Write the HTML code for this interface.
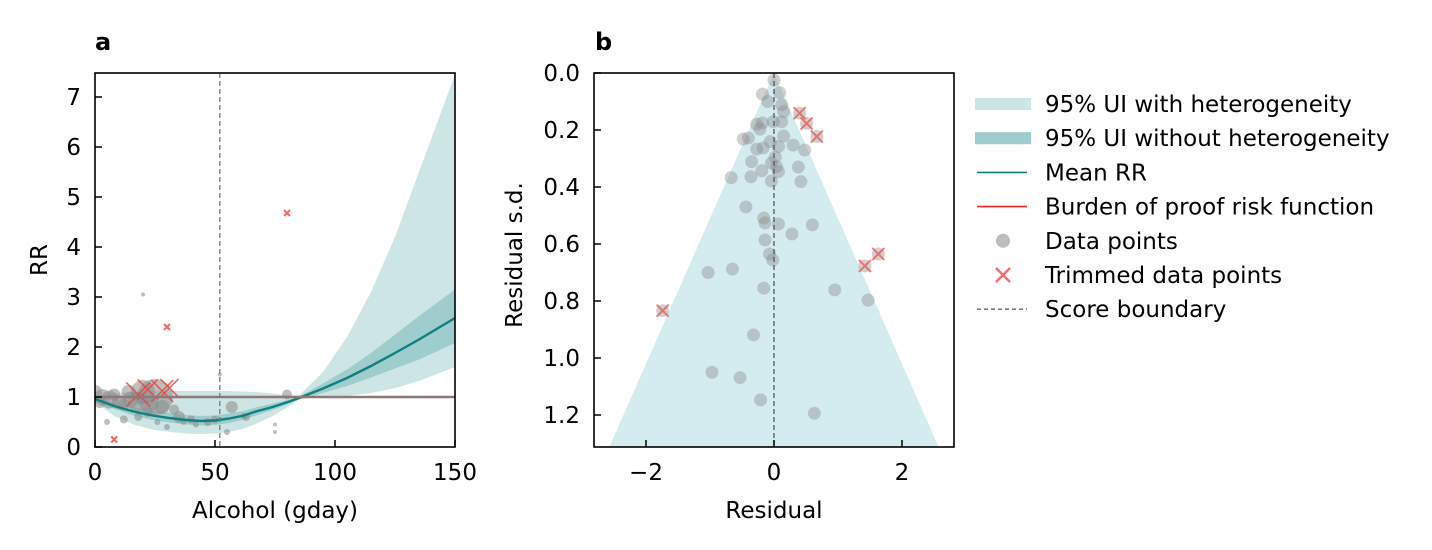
<!DOCTYPE html>
<html><head><meta charset="utf-8"><style>
body{margin:0;background:#fff}
svg{font-family:"DejaVu Sans","Liberation Sans",sans-serif;display:block}
</style></head><body>
<svg id="c" width="1432" height="550" viewBox="0 0 1432 550"></svg>
<script>
// ---- Panel a data ----
const curveX=[0,8,16,24,31,38,44,50,56,62,67,74,81,85,95,105,115,125,135,150];
const curveMean=[0.96,0.82,0.71,0.63,0.58,0.54,0.52,0.53,0.57,0.63,0.71,0.80,0.91,0.98,1.17,1.38,1.62,1.88,2.15,2.58];
const innerLo=[0.95,0.76,0.63,0.54,0.49,0.45,0.43,0.44,0.48,0.55,0.63,0.74,0.87,0.95,1.08,1.22,1.39,1.57,1.75,2.08];
const innerHi=[0.98,0.88,0.80,0.73,0.68,0.64,0.62,0.63,0.67,0.72,0.79,0.87,0.95,1.01,1.27,1.55,1.88,2.25,2.62,3.15];
const outerLo=[0.9,0.62,0.45,0.35,0.3,0.27,0.26,0.27,0.3,0.37,0.46,0.62,0.82,0.96,1.0,1.02,1.08,1.18,1.32,1.6];
const outerHi=[1.02,1.08,1.1,1.12,1.12,1.12,1.12,1.12,1.12,1.11,1.1,1.07,1.03,1.03,1.5,2.2,3.1,4.2,5.5,7.45];
const ptsAX=[0,3,6,10,12,15,18,20,25,28,33,35,40,42,5,12,18,22,26,30,50,55,57,63,80,75,75,52,20,47,2,8,14,37,62,24];
const ptsAY=[1.1,1.0,0.95,0.9,0.85,0.95,0.9,1.1,1.0,0.8,0.75,0.6,0.55,0.45,0.5,0.55,0.6,0.7,0.5,0.4,0.55,0.3,0.8,0.6,1.05,0.3,0.45,1.45,3.05,0.5,0.9,1.05,1.1,0.5,0.62,0.85];
const ptsAR=[7,8,9,7,6,8,10,12,18,7,5,6,4,3,3,4,4,5,3,3,4,3,6,4,5,2,2,2,2,4,6,6,7,3,3,6];
const trimAX=[8,30,80,18,22,28,31];
const trimAY=[0.15,2.4,4.68,1.05,1.15,1.12,1.18];
const trimAS=[3,3,3,12,10,11,9];
const scoreBoundA=52;
const xTicksA=[0,50,100,150];
const yTicksA=[0,1,2,3,4,5,6,7];
// ---- Panel b data ----
const resX=[0,-0.18,0.09,-0.10,0.12,0.15,-0.27,-0.18,-0.22,-0.01,0.12,0.15,-0.48,-0.40,-0.06,0.07,0.30,0.48,-0.27,-0.17,0.02,-0.35,-0.04,0.04,0.38,-0.19,0.07,-0.36,-0.67,-0.04,0.42,-0.44,-0.16,-0.14,0.07,0.60,0.28,-0.14,-0.07,-0.02,-0.65,-1.03,-0.16,0.95,1.47,-0.32,-0.97,-0.53,-0.21,0.63];
const resSD=[0.025,0.074,0.069,0.10,0.112,0.136,0.18,0.175,0.197,0.171,0.171,0.221,0.232,0.228,0.241,0.258,0.253,0.27,0.267,0.263,0.295,0.311,0.316,0.329,0.33,0.343,0.346,0.364,0.367,0.379,0.381,0.47,0.509,0.526,0.53,0.533,0.565,0.586,0.635,0.656,0.688,0.70,0.755,0.761,0.797,0.919,1.05,1.069,1.147,1.194];
const trimResX=[0.40,0.51,0.67,1.63,1.42,-1.74];
const trimResSD=[0.141,0.177,0.223,0.635,0.677,0.834];
const xTicksB=[-2,0,2];
const yTicksB=[0,0.2,0.4,0.6,0.8,1.0,1.2];

const NS="http://www.w3.org/2000/svg";
const svg=document.getElementById('c');
const FS=23;
function el(tag,attrs,parent,txt){const e=document.createElementNS(NS,tag);for(const k in attrs)e.setAttribute(k,attrs[k]);if(txt!==undefined)e.textContent=txt;(parent||svg).appendChild(e);return e;}

const axA={x0:95,x1:455,y0:73,y1:447};
const xa=v=>axA.x0+v/150*(axA.x1-axA.x0);
const ya=v=>447-v*50;
const axB={x0:594,x1:954,y0:73,y1:447};
const xb=v=>774+v*64;
const yb=v=>73+v*285;

// ---------- Panel a ----------
const gA=el('g',{});
const cpA=el('clipPath',{id:'clipA'},gA);el('rect',{x:axA.x0,y:axA.y0,width:360,height:374},cpA);
const plotA=el('g',{'clip-path':'url(#clipA)'},gA);
function band(lo,hi,fill,name){let d='';curveX.forEach((x,i)=>{d+=(i?'L':'M')+xa(x).toFixed(1)+','+ya(hi[i]).toFixed(1);});
for(let i=curveX.length-1;i>=0;i--)d+='L'+xa(curveX[i]).toFixed(1)+','+ya(lo[i]).toFixed(1);
const p=el('path',{d:d+'Z',fill:fill},plotA);}
band(outerLo,outerHi,'#cde5e4','band-with-heterogeneity');
band(innerLo,innerHi,'#9fcccc','band-without-heterogeneity');
ptsAX.forEach((x,i)=>{const c=el('circle',{cx:xa(x),cy:ya(ptsAY[i]),r:ptsAR[i],fill:'#8a8a8a','fill-opacity':0.55},plotA);
});
trimAX.forEach((x,i)=>{const cx=xa(x),cy=ya(trimAY[i]),s=trimAS[i];
const p=el('path',{d:`M${cx-s},${cy-s}L${cx+s},${cy+s}M${cx-s},${cy+s}L${cx+s},${cy-s}`,stroke:'#e8453c','stroke-width':s>5?1.6:2,'stroke-opacity':0.8,fill:'none'},plotA);
});
{let d='';curveX.forEach((x,i)=>{d+=(i?'L':'M')+xa(x).toFixed(1)+','+ya(curveMean[i]).toFixed(1);});
const p=el('path',{d:d,fill:'none',stroke:'#0f8080','stroke-width':2.4},plotA);}
{const l=el('line',{x1:xa(0),x2:xa(150),y1:ya(1),y2:ya(1),stroke:'#907878','stroke-width':2.6},plotA);}
{const l=el('line',{x1:xa(scoreBoundA),x2:xa(scoreBoundA),y1:axA.y0,y2:axA.y1,stroke:'#777','stroke-width':1.3,'stroke-dasharray':'5,3'},plotA);}
el('rect',{x:axA.x0,y:axA.y0,width:360,height:374,fill:'none',stroke:'#000','stroke-width':1.6},gA);
xTicksA.forEach(v=>{el('line',{x1:xa(v),x2:xa(v),y1:447,y2:440,stroke:'#000','stroke-width':1.5},gA);
const t=el('text',{x:xa(v),y:480,'font-size':FS,'text-anchor':'middle'},gA,String(v));});
yTicksA.forEach(v=>{el('line',{x1:95,x2:102,y1:ya(v),y2:ya(v),stroke:'#000','stroke-width':1.5},gA);
const t=el('text',{x:81,y:ya(v)+8,'font-size':FS,'text-anchor':'end'},gA,String(v));});
</script>
<script>
(function(){
const a=el('text',{x:95,y:50,'font-size':24,'font-weight':'bold'},svg,'a');
const xl=el('text',{x:275,y:518,'font-size':FS,'text-anchor':'middle'},svg,'Alcohol (gday)');
const yl=el('text',{x:0,y:0,'font-size':FS,'text-anchor':'middle',transform:'translate(47,260) rotate(-90)'},svg,'RR');
const b=el('text',{x:595,y:50,'font-size':24,'font-weight':'bold'},svg,'b');
const xl2=el('text',{x:774,y:518,'font-size':FS,'text-anchor':'middle'},svg,'Residual');
const yl2=el('text',{x:0,y:0,'font-size':FS,'text-anchor':'middle',transform:'translate(522,255) rotate(-90)'},svg,'Residual s.d.');
})();
// ---------- Panel b ----------
const gB=el('g',{});
const cpB=el('clipPath',{id:'clipB'},gB);el('rect',{x:axB.x0,y:axB.y0,width:360,height:374},cpB);
const plotB=el('g',{'clip-path':'url(#clipB)'},gB);
{const sdMax=1.4;const f=el('path',{d:`M${xb(0)},${yb(0)}L${xb(1.96*sdMax)},${yb(sdMax)}L${xb(-1.96*sdMax)},${yb(sdMax)}Z`,fill:'#d4ecf0'},plotB);
}
resX.forEach((x,i)=>{const c=el('circle',{cx:xb(x),cy:yb(resSD[i]),r:6.5,fill:'#8a8a8a','fill-opacity':0.4},plotB);
});
trimResX.forEach((x,i)=>{const cx=xb(x),cy=yb(trimResSD[i]);
const c=el('circle',{cx:cx,cy:cy,r:6.5,fill:'#8a8a8a','fill-opacity':0.4},plotB);
const p=el('path',{d:`M${cx-6},${cy-6}L${cx+6},${cy+6}M${cx-6},${cy+6}L${cx+6},${cy-6}`,stroke:'#ee5a55','stroke-width':2,'stroke-opacity':0.8},plotB);
});
{const l=el('line',{x1:xb(0),x2:xb(0),y1:73,y2:447,stroke:'#555','stroke-width':1.3,'stroke-dasharray':'5,3'},plotB);}
el('rect',{x:axB.x0,y:axB.y0,width:360,height:374,fill:'none',stroke:'#000','stroke-width':1.6},gB);
xTicksB.forEach(v=>{el('line',{x1:xb(v),x2:xb(v),y1:447,y2:440,stroke:'#000','stroke-width':1.5},gB);
const t=el('text',{x:xb(v),y:480,'font-size':FS,'text-anchor':'middle'},gB,v<0?'\u2212'+(-v):String(v));});
yTicksB.forEach(v=>{el('line',{x1:594,x2:601,y1:yb(v),y2:yb(v),stroke:'#000','stroke-width':1.5},gB);
const t=el('text',{x:580,y:yb(v)+8,'font-size':FS,'text-anchor':'end'},gB,v.toFixed(1));});
// ---------- Legend ----------
const lg=el('g',{});
const items=['95% UI with heterogeneity','95% UI without heterogeneity','Mean RR','Burden of proof risk function','Data points','Trimmed data points','Score boundary'];
items.forEach((txt,i)=>{const y=104+i*34.2;const g=el('g',{},lg);
if(i==0)el('rect',{x:975,y:y-6,width:56,height:12,fill:'#cde5e4'},g);
if(i==1)el('rect',{x:975,y:y-6,width:56,height:12,fill:'#9fcccc'},g);
if(i==2)el('line',{x1:977,x2:1027,y1:y,y2:y,stroke:'#0f8080','stroke-width':1.6},g);
if(i==3)el('line',{x1:977,x2:1027,y1:y,y2:y,stroke:'#e8281e','stroke-width':1.6},g);
if(i==4)el('circle',{cx:1003,cy:y,r:7,fill:'#bdbdbd'},g);
if(i==5)el('path',{d:`M${996},${y-7}L${1010},${y+7}M${996},${y+7}L${1010},${y-7}`,stroke:'#f07070','stroke-width':2.5},g);
if(i==6)el('line',{x1:977,x2:1027,y1:y,y2:y,stroke:'#666','stroke-width':1.3,'stroke-dasharray':'4,3'},g);
el('text',{x:1045,y:y+8,'font-size':FS},g,txt);});
</script>
</body></html>
